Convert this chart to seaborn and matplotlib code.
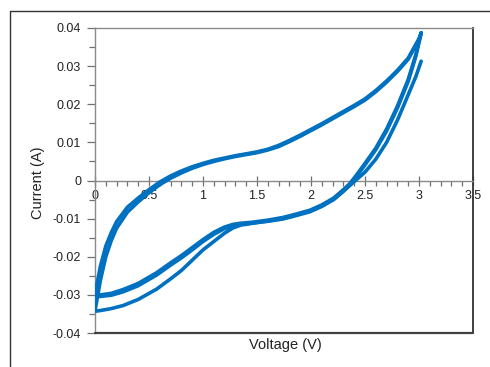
import numpy as np
import pandas as pd
import matplotlib
matplotlib.use("Agg")
import matplotlib.pyplot as plt
from matplotlib.lines import Line2D
from matplotlib.ticker import MultipleLocator
import seaborn as sns

# ---------------- data ----------------
cath_v = [3.02, 2.97, 2.9, 2.8, 2.7, 2.6, 2.5, 2.42, 2.36, 2.3, 2.21, 2.1, 1.99,
          1.85, 1.74, 1.6, 1.44, 1.35, 1.28, 1.2, 1.1, 1.0, 0.9, 0.8, 0.7, 0.57,
          0.4, 0.26, 0.15, 0.05, 0.0]
# first sweep (starts at 3.02 V, 0.031 A)
cath1_i = [0.0313, 0.0272, 0.0225, 0.0158, 0.0100, 0.0056, 0.0022, 0.0002, -0.0013,
           -0.0028, -0.0049, -0.0066, -0.0080, -0.0091, -0.0099, -0.0106, -0.0113,
           -0.0117, -0.0124, -0.0138, -0.0160, -0.0182, -0.0209, -0.0236, -0.0258,
           -0.0285, -0.0312, -0.0328, -0.0336, -0.0341, -0.0343]
# later cathodic sweeps (from the apex)
cath2_i = [0.0387, 0.0330, 0.0265, 0.0195, 0.0135, 0.0085, 0.0045, 0.0014, -0.0008,
           -0.0024, -0.0046, -0.0064, -0.0078, -0.0089, -0.0097, -0.0104, -0.0110,
           -0.0112, -0.0115, -0.0122, -0.0136, -0.0155, -0.0176, -0.0197, -0.0216,
           -0.0242, -0.0270, -0.0286, -0.0296, -0.0300, -0.0300]
cath3_i = [0.0387, 0.0325, 0.0260, 0.0190, 0.0130, 0.0081, 0.0041, 0.0010, -0.0011,
           -0.0028, -0.0050, -0.0068, -0.0082, -0.0093, -0.0101, -0.0107, -0.0112,
           -0.0115, -0.0119, -0.0126, -0.0141, -0.0160, -0.0182, -0.0203, -0.0222,
           -0.0248, -0.0276, -0.0292, -0.0301, -0.0304, -0.0305]

anod_v = [0.0, 0.02, 0.05, 0.1, 0.15, 0.2, 0.3, 0.4, 0.5, 0.6, 0.7, 0.8, 0.9, 1.0,
          1.1, 1.2, 1.3, 1.4, 1.5, 1.6, 1.7, 1.8, 1.9, 2.0, 2.1, 2.2, 2.3, 2.4, 2.5,
          2.6, 2.7, 2.8, 2.9, 3.0, 3.02]
anod1_i = [-0.0342, -0.0310, -0.0262, -0.0200, -0.0158, -0.0125, -0.0083, -0.0056,
           -0.0032, -0.0011, 0.0006, 0.0020, 0.0032, 0.0042, 0.0050, 0.0057, 0.0063,
           0.0068, 0.0073, 0.0080, 0.0089, 0.0102, 0.0116, 0.0131, 0.0146, 0.0162,
           0.0178, 0.0194, 0.0211, 0.0233, 0.0258, 0.0286, 0.0318, 0.0370, 0.0387]
anod2_i = [-0.0300, -0.0268, -0.0225, -0.0172, -0.0137, -0.0108, -0.0070, -0.0046,
           -0.0024, -0.0004, 0.0012, 0.0025, 0.0036, 0.0045, 0.0053, 0.0059, 0.0065,
           0.0070, 0.0075, 0.0082, 0.0092, 0.0105, 0.0119, 0.0134, 0.0149, 0.0165,
           0.0181, 0.0197, 0.0214, 0.0236, 0.0261, 0.0289, 0.0321, 0.0372, 0.0387]

x_ticks = [0, 0.5, 1, 1.5, 2, 2.5, 3, 3.5]
x_labels = ["0", "0.5", "1", "1.5", "2", "2.5", "3", "3.5"]
y_ticks = [-0.04, -0.03, -0.02, -0.01, 0, 0.01, 0.02, 0.03, 0.04]
y_labels = ["-0.04", "-0.03", "-0.02", "-0.01", "0", "0.01", "0.02", "0.03", "0.04"]

sweeps = [("c1", cath_v, cath1_i), ("a1", anod_v, anod1_i),
          ("c2", cath_v, cath2_i), ("a2", anod_v, anod2_i),
          ("c3", cath_v, cath3_i)]
frames = []
for name, v, i in sweeps:
    frames.append(pd.DataFrame({"V": v, "I": i, "sweep": name,
                                "order": np.arange(len(v))}))
df = pd.concat(frames, ignore_index=True)

# ---------------- figure ----------------
sns.set_style("white")
plt.rcParams["font.family"] = ["Liberation Sans", "DejaVu Sans"]

W, H = 490, 367
fig = plt.figure(figsize=(W / 100, H / 100), dpi=100)
ax = fig.add_axes([95 / W, 1 - 333 / H, (473 - 95) / W, (333 - 28) / H])

sns.lineplot(data=df, x="V", y="I", units="sweep", estimator=None, sort=False,
             color="#0070C0", linewidth=2.6, ax=ax, legend=False, zorder=4)
for ln in ax.lines:
    ln.set_solid_capstyle("round")
    ln.set_solid_joinstyle("round")

ax.set_xlim(0, 3.5)
ax.set_ylim(-0.04, 0.04)
ax.set_xticks(x_ticks)
ax.set_xticklabels(x_labels)
ax.set_yticks(y_ticks)
ax.set_yticklabels(y_labels)
ax.xaxis.set_minor_locator(MultipleLocator(0.1))
ax.yaxis.set_minor_locator(MultipleLocator(0.005))
ax.set_xlabel("")
ax.set_ylabel("")

ax.spines["bottom"].set_position(("data", 0))
ax.spines["bottom"].set_color("#8a8a8a")
ax.spines["left"].set_color("#8a8a8a")
ax.spines["top"].set_color("#8a8a8a")
ax.spines["right"].set_color("#303030")
for s in ax.spines.values():
    s.set_linewidth(1.0)
ax.spines["right"].set_linewidth(1.3)
# bottom border of plot area
ax.plot([0, 1], [0, 0], transform=ax.transAxes, color="#404040", lw=1.6,
        clip_on=False, zorder=5)

ax.tick_params(axis="x", which="major", direction="inout", length=7, width=0.9,
               color="#707070", labelcolor="#222222", labelsize=9, pad=3)
ax.tick_params(axis="x", which="minor", direction="out", length=3.5, width=0.9,
               color="#707070")
ax.tick_params(axis="y", which="major", direction="out", length=6, width=0.9,
               color="#707070", labelcolor="#222222", labelsize=9, pad=4)
ax.tick_params(axis="y", which="minor", direction="out", length=4, width=0.9,
               color="#707070")
ax.tick_params(left=True, bottom=True, which="both")

fig.text(38 / W, 1 - 183 / H, "Current (A)", rotation=90, ha="center",
         va="center", fontsize=10.5, color="#222222")
fig.text(285 / W, 1 - 345 / H, "Voltage (V)", ha="center", va="center",
         fontsize=10.5, color="#222222")

# outer chart border (cropped)
fig.add_artist(Line2D([10 / W, 10 / W, 1.0], [0.0, 1 - 11 / H, 1 - 11 / H],
                      transform=fig.transFigure, color="#333333", lw=1.0))

fig.savefig("out.png", dpi=100, facecolor="white")
